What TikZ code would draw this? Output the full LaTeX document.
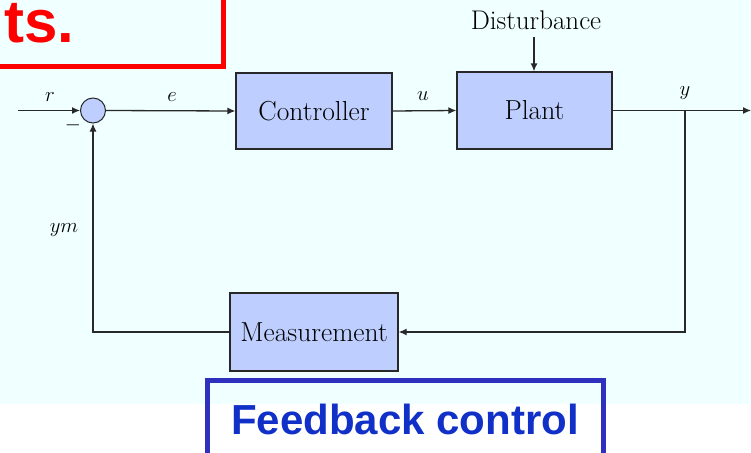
\documentclass[tikz,border=0pt]{standalone}
\usepackage{fontspec}
\newfontfamily\arialb[]{Liberation Sans}
\usetikzlibrary{arrows.meta}
\definecolor{bgazure}{RGB}{240,255,255}
\definecolor{boxfill}{RGB}{190,207,255}
\definecolor{redframe}{RGB}{255,0,0}
\definecolor{blueframe}{RGB}{48,48,190}
\definecolor{bluetext}{RGB}{16,48,200}
\definecolor{linegray}{RGB}{40,40,40}
\tikzset{
  blk/.style={draw=linegray, line width=1.3pt, fill=boxfill, minimum width=#1, inner sep=0pt, font=\fontsize{27.5}{30}\selectfont},
  blk/.default=156pt,
  arr/.style={draw=linegray, line width=1.3pt, -{Latex[length=8pt,width=7pt]}},
  sig/.style={font=\fontsize{21}{24}\selectfont, inner sep=0pt},
}
\begin{document}
\begin{tikzpicture}[x=1pt,y=-1pt]
\useasboundingbox (0,0) rectangle (751,452);
\fill[white] (0,0) rectangle (751,452);
\fill[bgazure] (0,0) rectangle (751,404);
% red frame with text
\draw[redframe, line width=5pt] (-10,-10) rectangle (223,66);
\node[anchor=base west, inner sep=0pt, text=redframe, font=\arialb\bfseries\fontsize{60}{60}\selectfont] (ts) at (4,43) {ts.};
% blocks
\node[blk=156pt, minimum height=76pt] (ctrl) at (314,111) {Controller};
\node[blk=155pt, minimum height=77pt] (plant) at (534.5,110.5) {Plant};
\node[blk=168pt, minimum height=78pt] (meas) at (314,332) {Measurement};
\node[circle, draw=linegray, line width=1pt, fill=boxfill, minimum size=25pt, inner sep=0pt] (sum) at (93,110.5) {};
% coordinates
\coordinate (in) at (18,110.5);
\coordinate (out) at (751,110.5);
\coordinate (branch) at (685,110.5);
\node[inner sep=0pt, font=\fontsize{27}{30}\selectfont] (dist) at (536,20) {Disturbance};
\coordinate (disttop) at (534,37);
% connectors
\draw[arr] (in) -- (sum.west);
\draw[arr] (sum.east) -- (ctrl.west);
\draw[arr] (ctrl.east) -- (plant.west);
\draw[arr] (plant.east) -- (out);
\draw[arr] (disttop) -- (disttop |- plant.north);
\draw[arr] (branch) |- (meas.east);
\draw[arr] (meas.west) -| (sum.south);
% labels
\node[sig] (lr) at (50,97) {$r$};
\node[sig] (le) at (172,97) {$e$};
\node[sig] (lu) at (423,96) {$u$};
\node[sig] (ly) at (685,93) {$y$};
\node[sig] (lym) at (64,230) {$ym$};
\node[sig] (minus) at (73,125) {$-$};
% blue frame
\draw[blueframe, line width=5pt] (207.5,380.5) rectangle (603.5,470);
\node[inner sep=0pt, text=bluetext, font=\arialb\bfseries\fontsize{42}{44}\selectfont] (fb) at (405,419) {Feedback control};
\end{tikzpicture}
\end{document}
